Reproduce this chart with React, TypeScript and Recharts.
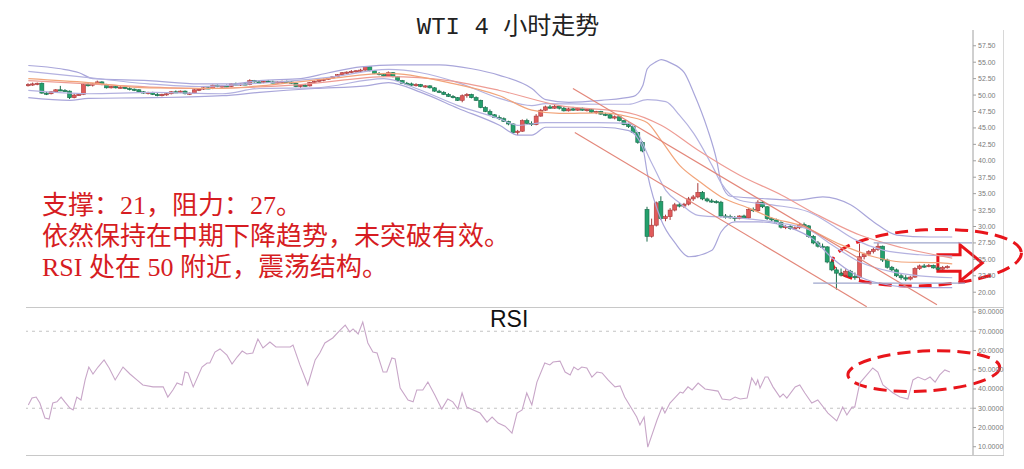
import React from "react";
import {
  ComposedChart,
  LineChart,
  Line,
  Bar,
  XAxis,
  YAxis,
  ReferenceLine,
  ReferenceArea,
} from "recharts";

// ---------- axes ----------
const X_DOMAIN: [number, number] = [-0.5, 204.5];
const PRICE_DOMAIN: [number, number] = [17.6, 59.9];
const RSI_DOMAIN: [number, number] = [5.7, 82.6];
const priceTicks = [20, 22.5, 25, 27.5, 30, 32.5, 35, 37.5, 40, 42.5, 45, 47.5, 50, 52.5, 55, 57.5];
const rsiTicks = [10, 20, 30, 40, 50, 60, 70, 80];
const rsiGuides = [70, 30];

// ---------- candles: [open, high, low, close] ----------
const ohlc: [number, number, number, number][] = [
  [51.5, 51.8, 51.3, 51.6], [51.6, 51.9, 51.4, 51.7], [51.7, 51.9, 51.5, 51.8], [51.8, 51.9, 50.2, 50.3],
  [50.3, 50.5, 50.0, 50.2], [50.2, 50.6, 50.1, 50.5], [50.5, 50.9, 50.4, 50.8], [50.8, 51.4, 50.6, 50.7],
  [50.7, 50.9, 50.5, 50.6], [50.6, 50.7, 49.4, 49.6], [49.6, 50.2, 49.5, 50.0], [50.0, 50.3, 49.9, 50.1],
  [50.1, 51.8, 50.0, 51.6], [51.6, 51.9, 51.3, 51.5], [51.5, 51.8, 51.3, 51.7], [51.7, 52.2, 51.6, 52.0],
  [52.0, 52.1, 51.5, 51.6], [51.6, 51.7, 51.0, 51.1], [51.1, 51.4, 51.0, 51.3], [51.3, 51.5, 51.0, 51.1],
  [51.1, 51.4, 51.0, 51.2], [51.2, 51.3, 50.9, 51.0], [51.0, 51.2, 50.7, 50.9], [50.9, 51.0, 50.6, 50.8],
  [50.8, 50.9, 50.4, 50.5], [50.5, 50.6, 50.2, 50.3], [50.3, 50.5, 50.1, 50.4], [50.4, 50.5, 50.0, 50.1],
  [50.1, 50.3, 49.8, 49.9], [49.9, 50.2, 49.8, 50.1], [50.1, 50.3, 49.9, 50.2], [50.2, 50.6, 50.1, 50.5],
  [50.5, 50.7, 50.3, 50.4], [50.4, 50.7, 50.3, 50.6], [50.6, 50.7, 50.1, 50.2], [50.2, 50.4, 50.0, 50.3],
  [50.3, 50.9, 50.2, 50.8], [50.8, 51.0, 50.6, 50.9], [50.9, 51.2, 50.8, 51.1], [51.1, 51.3, 50.9, 51.0],
  [51.0, 51.6, 50.9, 51.5], [51.5, 51.6, 51.2, 51.3], [51.3, 51.5, 51.1, 51.4], [51.4, 51.6, 51.2, 51.3],
  [51.3, 51.8, 51.2, 51.7], [51.7, 51.9, 51.5, 51.6], [51.6, 51.8, 51.4, 51.7], [51.7, 51.9, 51.5, 51.6],
  [51.6, 52.4, 51.5, 52.2], [52.2, 52.3, 51.9, 52.0], [52.0, 52.2, 51.8, 51.9], [51.9, 52.2, 51.8, 52.1],
  [52.1, 52.3, 51.9, 52.0], [52.0, 52.2, 51.8, 51.9], [51.9, 52.1, 51.8, 52.0], [52.0, 52.2, 51.9, 52.1],
  [52.1, 52.2, 51.9, 52.0], [52.0, 52.1, 51.7, 51.8], [51.8, 51.9, 51.2, 51.3], [51.3, 51.6, 51.1, 51.5],
  [51.5, 51.7, 51.3, 51.4], [51.4, 52.0, 51.3, 51.9], [51.9, 52.2, 51.8, 52.1], [52.1, 52.4, 52.0, 52.3],
  [52.3, 52.5, 52.1, 52.4], [52.4, 52.7, 52.3, 52.6], [52.6, 52.9, 52.5, 52.8], [52.8, 53.2, 52.7, 53.1],
  [53.1, 53.5, 53.0, 53.4], [53.4, 53.6, 53.2, 53.5], [53.5, 53.8, 53.3, 53.6], [53.6, 53.8, 53.4, 53.7],
  [53.7, 54.0, 53.5, 53.8], [53.8, 54.4, 53.7, 54.3], [54.3, 54.4, 53.6, 53.7], [53.7, 53.8, 53.2, 53.3],
  [53.3, 53.5, 53.0, 53.1], [53.1, 53.2, 52.8, 52.9], [52.9, 53.6, 52.8, 53.4], [53.4, 53.5, 52.7, 52.8],
  [52.8, 52.9, 52.1, 52.2], [52.2, 52.3, 51.7, 51.8], [51.8, 52.0, 51.5, 51.7], [51.7, 51.9, 51.4, 51.5],
  [51.5, 51.8, 51.3, 51.6], [51.6, 51.7, 51.2, 51.3], [51.3, 51.5, 51.1, 51.4], [51.4, 51.5, 51.0, 51.1],
  [51.1, 51.2, 50.5, 50.6], [50.6, 50.8, 50.3, 50.4], [50.4, 50.6, 50.0, 50.1], [50.1, 50.3, 49.7, 49.8],
  [49.8, 50.0, 49.5, 49.6], [49.6, 49.7, 49.1, 49.2], [49.2, 50.1, 48.9, 49.9], [49.9, 50.3, 49.6, 50.1],
  [50.1, 50.2, 49.5, 49.6], [49.6, 49.8, 49.1, 49.2], [49.2, 49.3, 48.0, 48.1], [48.1, 48.3, 47.4, 47.5],
  [47.5, 47.8, 46.8, 47.0], [47.0, 47.1, 46.5, 46.6], [46.6, 46.9, 46.2, 46.4], [46.4, 46.6, 45.9, 46.0],
  [46.0, 46.1, 45.4, 45.6], [45.6, 45.7, 44.1, 44.3], [44.3, 44.7, 43.9, 44.5], [44.5, 46.3, 44.4, 46.1],
  [46.1, 46.4, 45.6, 45.7], [45.7, 46.0, 45.3, 45.5], [45.5, 47.1, 45.4, 46.8], [46.8, 47.9, 46.7, 47.7],
  [47.7, 48.4, 47.6, 48.2], [48.2, 48.5, 47.9, 48.0], [48.0, 48.6, 47.9, 48.3], [48.3, 48.4, 47.8, 48.0],
  [48.0, 48.2, 47.5, 47.6], [47.6, 48.1, 47.5, 47.9], [47.9, 48.2, 47.6, 47.7], [47.7, 48.1, 47.6, 48.0],
  [48.0, 48.1, 47.6, 47.7], [47.7, 48.0, 47.5, 47.8], [47.8, 47.9, 47.3, 47.4], [47.4, 47.6, 47.1, 47.5],
  [47.5, 47.6, 47.0, 47.1], [47.1, 47.3, 46.8, 47.0], [47.0, 47.1, 46.4, 46.5], [46.5, 46.9, 46.3, 46.7],
  [46.7, 46.8, 46.0, 46.1], [46.1, 46.2, 45.4, 45.5], [45.5, 45.8, 45.0, 45.2], [45.2, 45.3, 44.2, 44.3],
  [44.3, 44.4, 42.6, 42.8], [42.8, 43.0, 41.3, 41.5], [32.6, 33.0, 27.7, 28.5], [28.5, 31.2, 28.3, 30.2],
  [30.2, 33.8, 30.0, 33.6], [33.8, 34.6, 31.0, 31.2], [31.2, 31.8, 30.8, 31.5], [31.5, 32.8, 31.0, 32.5],
  [32.5, 33.6, 32.3, 33.3], [33.3, 33.6, 32.9, 33.1], [33.1, 33.6, 32.8, 33.4], [33.4, 34.5, 33.2, 34.2],
  [34.2, 34.8, 33.9, 34.5], [34.5, 36.6, 34.3, 35.2], [35.2, 35.4, 34.0, 34.2], [34.2, 34.4, 33.7, 33.9],
  [33.9, 34.2, 33.6, 33.8], [33.8, 34.0, 33.5, 33.7], [33.7, 33.9, 31.4, 31.6], [31.6, 31.9, 31.2, 31.5],
  [31.5, 31.8, 31.2, 31.4], [31.4, 31.6, 30.8, 31.2], [31.2, 31.7, 31.1, 31.6], [31.6, 31.8, 31.2, 31.3],
  [31.3, 32.8, 31.2, 32.6], [32.6, 32.9, 32.2, 32.4], [32.4, 34.0, 32.2, 33.7], [33.7, 33.9, 32.8, 33.0],
  [33.0, 33.1, 31.0, 31.2], [31.2, 31.4, 30.7, 31.0], [31.0, 31.2, 30.4, 30.6], [30.6, 30.8, 29.7, 29.9],
  [29.9, 30.2, 29.6, 30.0], [30.0, 30.2, 29.5, 29.7], [29.7, 30.0, 29.5, 29.8], [29.8, 30.5, 29.6, 30.3],
  [30.3, 30.6, 29.9, 30.1], [30.1, 30.2, 28.3, 28.5], [28.5, 28.7, 27.3, 27.5], [27.5, 27.8, 26.8, 27.0],
  [27.0, 27.4, 26.6, 26.9], [26.9, 27.0, 24.4, 24.6], [24.6, 24.9, 23.2, 23.4], [23.4, 23.8, 20.4, 22.9],
  [22.9, 23.6, 22.4, 22.6], [22.6, 23.5, 22.3, 23.2], [23.2, 23.4, 22.2, 22.4], [22.4, 23.0, 21.9, 22.2],
  [22.2, 27.4, 21.8, 25.4], [25.4, 26.0, 25.0, 25.8], [25.8, 26.4, 25.5, 26.2], [26.2, 26.8, 25.9, 26.5],
  [26.5, 27.5, 26.3, 27.0], [27.0, 27.1, 24.6, 24.9], [24.9, 25.1, 23.6, 23.8], [23.8, 24.0, 23.2, 23.4],
  [23.4, 23.6, 22.3, 22.5], [22.5, 22.8, 21.9, 22.2], [22.2, 22.6, 21.7, 22.0], [22.0, 22.5, 21.8, 22.3],
  [22.3, 23.8, 22.2, 23.6], [23.6, 24.2, 23.4, 24.0], [24.0, 24.3, 23.7, 23.9], [23.9, 24.3, 23.8, 24.1],
  [24.1, 24.2, 23.6, 23.7], [23.7, 24.0, 23.3, 23.5], [23.5, 24.0, 23.4, 23.8], [23.8, 24.1, 23.6, 23.9],
];

// ---------- band / average lines: [candle index, price] ----------
const bandUpperOuter: [number, number][] = [
  [0, 54.5], [7, 54.0], [11, 53.4], [14, 52.5], [26, 52.2], [37, 51.7], [44, 51.7], [50, 52.2], [59, 52.5],
  [65, 53.4], [72, 54.3], [80, 54.6], [89, 54.6], [96, 54.0], [102, 53.0], [109, 51.0], [112, 49.3],
  [117, 48.9], [124, 49.2], [131, 49.8], [133, 51.4], [134, 54.0], [136, 55.1], [137, 55.4], [139, 54.9],
  [142, 53.4], [144, 50.4], [147, 44.9], [149, 40.1], [150, 36.6], [152, 34.6], [158, 34.3], [166, 34.0],
  [172, 34.5], [178, 33.3], [183, 30.7], [188, 28.7], [195, 28.4], [200, 28.4],
];
const bandUpperInner: [number, number][] = [
  [0, 53.6], [11, 52.8], [26, 51.7], [37, 51.3], [50, 51.8], [65, 52.7], [78, 53.9], [85, 53.4],
  [93, 51.9], [102, 49.5], [109, 48.4], [112, 48.7], [124, 48.6], [130, 48.6], [134, 49.3], [138, 49.0],
  [141, 46.9], [144, 44.2], [148, 39.3], [150, 36.6], [154, 34.0], [161, 33.3], [169, 32.2], [174, 30.2],
  [179, 28.0], [185, 26.4], [193, 25.7], [200, 25.5],
];
const maFast: [number, number][] = [
  [0, 52.5], [13, 51.9], [26, 51.1], [42, 51.0], [50, 51.4], [65, 52.5], [78, 53.3], [91, 51.9],
  [102, 49.9], [109, 47.7], [115, 47.2], [124, 47.3], [130, 46.7], [134, 45.8], [137, 43.1], [141, 39.3],
  [145, 37.0], [150, 34.5], [156, 32.8], [161, 31.3], [167, 30.2], [176, 27.2], [183, 25.4], [189, 24.6],
  [197, 24.5], [200, 24.3],
];
const maSlow: [number, number][] = [
  [0, 52.2], [16, 51.6], [37, 51.0], [59, 51.6], [78, 52.8], [91, 52.2], [102, 50.7], [115, 48.4],
  [130, 47.3], [137, 45.4], [145, 41.6], [154, 37.8], [163, 34.8], [171, 31.7], [180, 28.7], [189, 26.8],
  [200, 25.2],
];
const bandLowerInner: [number, number][] = [
  [0, 50.7], [13, 50.2], [27, 50.4], [42, 50.2], [50, 51.0], [62, 51.1], [77, 52.5], [84, 51.0],
  [93, 48.4], [102, 46.4], [106, 45.4], [112, 45.8], [123, 45.8], [130, 45.7], [135, 39.6], [138, 35.5],
  [141, 33.6], [145, 31.7], [154, 31.3], [163, 30.5], [169, 29.5], [174, 27.2], [180, 24.6], [187, 23.1],
  [193, 22.5], [200, 22.2],
];
const bandLowerOuter: [number, number][] = [
  [0, 49.6], [9, 49.2], [13, 49.5], [27, 49.6], [42, 49.9], [50, 50.4], [62, 51.0], [73, 51.4], [78, 51.9],
  [85, 50.4], [93, 48.0], [102, 45.4], [106, 43.9], [109, 43.9], [112, 45.1], [124, 45.1], [130, 44.6],
  [133, 42.0], [134, 38.1], [137, 31.0], [140, 27.5], [143, 25.4], [148, 26.4], [150, 29.2], [153, 30.7],
  [158, 30.7], [165, 29.8], [170, 28.0], [174, 25.2], [179, 22.7], [184, 21.4], [193, 20.7], [200, 20.7],
];

// ---------- drawn trend lines: [candle index, price] ----------
const channelUpper: [number, number][] = [[117.9, 51.0], [196.7, 18.1]];
const channelLower: [number, number][] = [[118.3, 44.3], [181.5, 17.8]];
const resistanceLine: [number, number][] = [[183, 27.5], [204.3, 27.5]];
const supportLine: [number, number][] = [[169.9, 21.4], [202.8, 21.4]];

// ---------- RSI: [candle index, value] ----------
const rsiPoints: [number, number][] = [
  [0, 31.7], [0.8, 35.3], [1.7, 35.8], [2.5, 32.7], [3.6, 24.9], [4.5, 24.4], [5.3, 32.7], [6.2, 33.3],
  [7.1, 35.8], [7.9, 33.3], [9.0, 30.1], [9.7, 29.1], [10.5, 35.8], [11.4, 34.3], [12.3, 44.7], [13.1, 51.4],
  [14.0, 47.8], [15.1, 51.4], [16.4, 55.1], [17.5, 50.9], [18.8, 44.7], [20.5, 51.4], [22.0, 47.8],
  [23.5, 44.7], [24.8, 42.1], [27.0, 41.1], [29.2, 41.1], [30.2, 35.8], [31.3, 39.5], [32.2, 43.1],
  [33.3, 42.1], [33.9, 48.8], [34.6, 48.3], [35.7, 41.1], [37.6, 51.4], [38.7, 53.5], [39.3, 53.5],
  [40.4, 59.2], [41.5, 60.8], [43.0, 57.6], [44.1, 53.0], [45.2, 56.6], [46.3, 59.7], [47.3, 58.2],
  [48.6, 58.7], [49.7, 66.0], [50.8, 61.3], [52.3, 64.4], [53.6, 61.8], [56.7, 61.8], [57.3, 62.8],
  [58.8, 52.5], [60.5, 42.1], [62.1, 55.1], [63.1, 58.7], [64.2, 63.9], [65.9, 66.5], [67.5, 70.6],
  [68.6, 73.2], [69.6, 69.6], [70.3, 71.2], [71.4, 68.6], [72.4, 74.8], [73.5, 63.9], [74.6, 59.2],
  [75.5, 58.7], [76.8, 48.8], [77.6, 48.8], [78.7, 56.1], [79.4, 55.6], [80.5, 40.5], [82.2, 34.3],
  [83.3, 33.3], [84.1, 39.5], [85.4, 39.5], [86.5, 43.6], [88.0, 36.9], [89.5, 29.6], [90.8, 34.8],
  [91.9, 33.3], [93.0, 29.6], [93.9, 37.9], [94.9, 30.6], [97.8, 27.5], [99.3, 22.8], [100.4, 25.4],
  [101.7, 22.3], [103.2, 20.7], [104.7, 17.1], [105.8, 27.5], [106.9, 29.1], [107.9, 37.9], [109.0, 31.7],
  [110.1, 43.6], [111.8, 53.5], [112.9, 52.5], [113.6, 54.0], [115.1, 54.5], [116.2, 48.8], [117.3, 47.3],
  [118.1, 51.4], [119.0, 49.9], [119.8, 51.4], [120.9, 50.9], [122.0, 46.2], [123.1, 48.8], [124.2, 48.3],
  [125.5, 44.7], [127.0, 41.1], [128.1, 41.6], [129.1, 35.8], [131.7, 25.4], [132.4, 21.3], [133.3, 25.4],
  [134.1, 9.8], [136.1, 23.9], [137.2, 30.6], [137.8, 27.5], [138.9, 32.7], [139.9, 35.3], [141.1, 38.4],
  [141.7, 37.9], [142.8, 41.1], [143.7, 39.5], [145.0, 43.1], [146.5, 40.0], [149.3, 38.9], [150.2, 34.8],
  [151.9, 34.3], [153.0, 35.8], [154.1, 34.8], [155.6, 35.3], [156.6, 45.7], [157.5, 42.1], [157.9, 44.7],
  [158.4, 40.5], [159.5, 46.2], [160.1, 46.2], [161.2, 41.1], [162.7, 35.8], [163.4, 37.4], [164.2, 35.3],
  [166.0, 41.1], [167.0, 42.1], [168.1, 37.9], [169.6, 32.7], [170.9, 34.3], [173.1, 27.5], [175.0, 23.4],
  [176.3, 30.6], [177.2, 26.5], [178.3, 30.6], [178.9, 30.6], [180.0, 43.1], [181.1, 46.2], [182.8, 50.9],
  [183.9, 48.8], [185.0, 42.1], [187.2, 37.9], [188.7, 35.8], [190.4, 34.8], [191.5, 44.7], [192.6, 46.2],
  [194.1, 44.7], [195.2, 46.2], [196.3, 43.6], [197.3, 47.3], [198.4, 49.9], [199.5, 48.8],
];

// ---------- highlighted zones (data units) ----------
const priceZone = { x1: 174, x2: 215, y1: 21.0, y2: 29.5 };
const arrowZone = { x1: 196.9, x2: 206.5, y1: 21.7, y2: 27.2 };
const rsiZone = { x1: 177.4, x2: 210.3, y1: 38.9, y2: 59.7 };

// ---------- derived tables ----------
const candleData = ohlc.map(([o, h, l, c], i) => ({ i, o, h, l, c, range: [l, h] }));
const pts = (arr: [number, number][]) => arr.map(([i, v]) => ({ i, v }));
const rsiData = pts(rsiPoints);

const RED = "#e8151b";

const Candle = (props: any) => {
  let { x, y, width, height, payload } = props;
  if (!payload || x == null || y == null) return null;
  if (height < 0) {
    y = y + height;
    height = -height;
  }
  const { o, h, l, c } = payload;
  const up = c >= o;
  const ratio = h === l ? 0 : height / (h - l);
  const cx = x + width / 2;
  const top = y + (h - Math.max(o, c)) * ratio;
  const bot = y + (h - Math.min(o, c)) * ratio;
  const fill = up ? "#e05a5a" : "#23a06c";
  const edge = up ? "#a83a3a" : "#1a6b4b";
  return (
    <g>
      <line x1={cx} x2={cx} y1={y} y2={y + height} stroke={edge} strokeWidth={1} />
      <rect x={x} y={top} width={width} height={Math.max(1.2, bot - top)} fill={fill} stroke={edge} strokeWidth={0.6} />
    </g>
  );
};

const DashedEllipse = (props: any) => {
  const { x, y, width, height } = props;
  if (x == null) return null;
  const cx = x + width / 2;
  const cy = y + height / 2;
  return (
    <ellipse
      cx={cx}
      cy={cy}
      rx={Math.abs(width) / 2}
      ry={Math.abs(height) / 2}
      fill="none"
      stroke={RED}
      strokeWidth={3}
      strokeDasharray="13 7"
      transform={`rotate(-3 ${cx} ${cy})`}
    />
  );
};

const HollowArrow = (props: any) => {
  const { x, y, width, height } = props;
  if (x == null) return null;
  const w = Math.abs(width);
  const h = Math.abs(height);
  const hx = x + w * 0.5;
  const bt = y + h * 0.27;
  const bb = y + h * 0.73;
  const d = `M${x},${bt} L${hx},${bt} L${hx},${y} L${x + w},${y + h / 2} L${hx},${y + h} L${hx},${bb} L${x},${bb} Z`;
  return <path d={d} fill="#ffffff" stroke={RED} strokeWidth={3} strokeLinejoin="miter" />;
};

const tickStyle = { fontSize: 7, fill: "#7a7a7a", fontFamily: "Liberation Sans, Arial, sans-serif" };

const bandLine = (arr: [number, number][], color: string, key: string) => (
  <Line
    key={key}
    data={pts(arr)}
    dataKey="v"
    type="monotone"
    stroke={color}
    strokeWidth={1.2}
    dot={false}
    activeDot={false}
    isAnimationActive={false}
  />
);

const segLine = (arr: [number, number][], color: string, key: string) => (
  <ReferenceLine
    key={key}
    segment={[{ x: arr[0][0], y: arr[0][1] }, { x: arr[1][0], y: arr[1][1] }]}
    stroke={color}
    strokeWidth={1.2}
    ifOverflow="visible"
  />
);

export default function App() {
  return (
    <div
      style={{
        position: "absolute",
        left: 0,
        top: 0,
        width: 1024,
        height: 469,
        background: "#ffffff",
        overflow: "hidden",
      }}
    >
      {/* frame lines */}
      <div style={{ position: "absolute", left: 1003, top: 30, width: 1, height: 426, background: "#d8d8d8" }} />
      <div style={{ position: "absolute", left: 26, top: 307, width: 978, height: 1, background: "#c8c8c8" }} />
      <div style={{ position: "absolute", left: 26, top: 455, width: 978, height: 1, background: "#c8c8c8" }} />

      {/* price panel */}
      <div style={{ position: "absolute", left: 0, top: 0 }}>
        <ComposedChart
          width={1024}
          height={310}
          data={candleData}
          margin={{ top: 30, right: 0, bottom: 2, left: 26 }}
        >
          <XAxis dataKey="i" type="number" domain={X_DOMAIN} allowDataOverflow hide />
          <YAxis
            orientation="right"
            width={51}
            domain={PRICE_DOMAIN}
            allowDataOverflow
            ticks={priceTicks}
            interval={0}
            tickFormatter={(v: number) => v.toFixed(2)}
            tick={tickStyle}
            tickSize={3}
            tickMargin={2}
            axisLine={{ stroke: "#a0a0a0" }}
            tickLine={{ stroke: "#a0a0a0" }}
          />
          {bandLine(bandUpperOuter, "#a9a6da", "uo")}
          {bandLine(bandUpperInner, "#b4b2e0", "ui")}
          {bandLine(maSlow, "#ee9c94", "ms")}
          {bandLine(maFast, "#f2a47a", "mf")}
          {bandLine(bandLowerInner, "#b4b2e0", "li")}
          {bandLine(bandLowerOuter, "#a9a6da", "lo")}
          {segLine(channelUpper, "#e3877a", "cu")}
          {segLine(channelLower, "#e3877a", "cl")}
          {segLine(resistanceLine, "#9ea6cc", "rl")}
          {segLine(supportLine, "#9ea6cc", "sl")}
          <Bar
            dataKey="range"
            barSize={4}
            isAnimationActive={false}
            shape={(p: any) => <Candle {...p} />}
          />
          <ReferenceArea
            x1={priceZone.x1}
            x2={priceZone.x2}
            y1={priceZone.y1}
            y2={priceZone.y2}
            ifOverflow="visible"
            shape={(p: any) => <DashedEllipse {...p} />}
          />
          <ReferenceArea
            x1={arrowZone.x1}
            x2={arrowZone.x2}
            y1={arrowZone.y1}
            y2={arrowZone.y2}
            ifOverflow="visible"
            shape={(p: any) => <HollowArrow {...p} />}
          />
        </ComposedChart>
      </div>

      {/* RSI panel */}
      <div style={{ position: "absolute", left: 0, top: 300 }}>
        <LineChart width={1024} height={160} data={rsiData} margin={{ top: 7, right: 0, bottom: 5, left: 26 }}>
          <XAxis dataKey="i" type="number" domain={X_DOMAIN} allowDataOverflow hide />
          <YAxis
            orientation="right"
            width={51}
            domain={RSI_DOMAIN}
            allowDataOverflow
            ticks={rsiTicks}
            interval={0}
            tickFormatter={(v: number) => v.toFixed(4)}
            tick={tickStyle}
            tickSize={3}
            tickMargin={2}
            axisLine={{ stroke: "#a0a0a0" }}
            tickLine={{ stroke: "#a0a0a0" }}
          />
          {rsiGuides.map((g) => (
            <ReferenceLine key={g} y={g} stroke="#c4c4c4" strokeDasharray="3 4" strokeWidth={1.2} />
          ))}
          <Line
            dataKey="v"
            type="linear"
            stroke="#c8a6c8"
            strokeWidth={1.1}
            dot={false}
            activeDot={false}
            isAnimationActive={false}
          />
          <ReferenceArea
            x1={rsiZone.x1}
            x2={rsiZone.x2}
            y1={rsiZone.y1}
            y2={rsiZone.y2}
            ifOverflow="visible"
            shape={(p: any) => <DashedEllipse {...p} />}
          />
        </LineChart>
      </div>

      {/* texts */}
      <svg
        width={1024}
        height={469}
        style={{ position: "absolute", left: 0, top: 0, pointerEvents: "none" }}
      >
        <text
          x={508}
          y={34}
          textAnchor="middle"
          fontSize={24}
          fill="#222222"
          fontFamily="'Liberation Mono', 'Noto Sans CJK SC', monospace"
        >
          WTI 4 小时走势
        </text>
        <g fill="#d61c22" fontSize={26} fontFamily="'Liberation Serif', 'Noto Sans CJK SC', serif">
          <text x={42} y={214}>支撑：21，阻力：27。</text>
          <text x={42} y={245}>依然保持在中期下降趋势，未突破有效。</text>
          <text x={42} y={276}>RSI 处在 50 附近，震荡结构。</text>
        </g>
        <text x={490} y={327} fontSize={23} fill="#111111" fontFamily="'Liberation Sans', Arial, sans-serif">
          RSI
        </text>
      </svg>
    </div>
  );
}
